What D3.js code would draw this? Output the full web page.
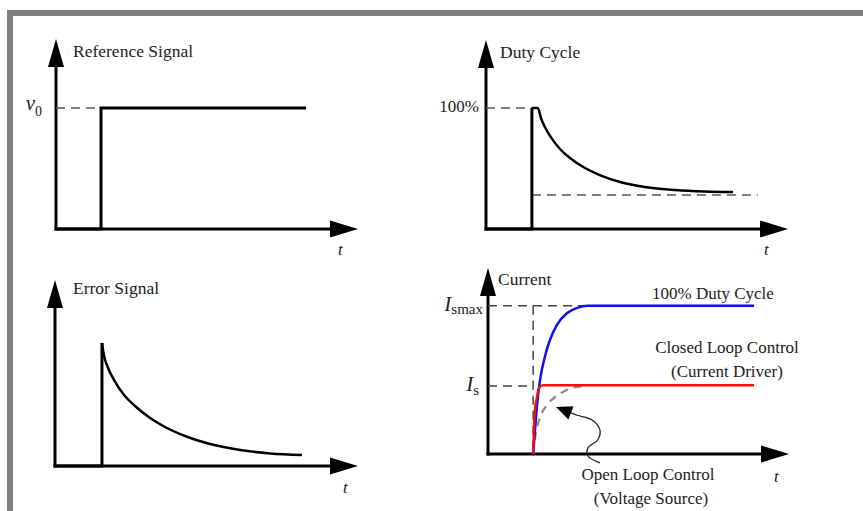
<!DOCTYPE html>
<html>
<head>
<meta charset="utf-8">
<script src="https://cdn.jsdelivr.net/npm/d3@7"></script>
<style>
  html, body { margin: 0; padding: 0; background: #fff; }
  svg { display: block; }
</style>
</head>
<body>
<svg id="chart" width="863" height="511"></svg>
<script>
// ---------------- DATA (time in arbitrary units 0..10, values normalised) ----------------
const titles = ["Reference Signal", "Duty Cycle", "Error Signal", "Current"];
const axisLabel = "t";

// Reference signal: step to v0
const refT = [0, 1.49, 1.49, 8.28];
const refV = [0, 0, 1, 1];
const refLevelLabel = "v";
const refLevelSub = "0";

// Duty cycle: jumps to 100%, then decays to steady state
const dutyStepT = [0, 1.52, 1.52];
const dutyStepV = [0, 0, 1];
const dutyCurveT = [1.52, 1.72, 1.82, 1.95, 2.12, 2.45, 2.78, 3.28, 3.77, 4.44, 5.26, 6.26, 7.25, 8.18];
const dutyCurveV = [1, 1, 0.917, 0.843, 0.769, 0.661, 0.587, 0.504, 0.446, 0.388, 0.347, 0.322, 0.31, 0.306];
const dutySteadyV = 0.28;
const dutySteadyT = [1.52, 9.0];
const dutyLevelLabel = "100%";

// Error signal: spike then decay
const errStepT = [0, 1.55, 1.55];
const errStepV = [0, 0, 1];
const errCurveT = [1.55, 1.62, 1.75, 1.95, 2.28, 2.64, 3.14, 3.63, 4.29, 5.12, 6.11, 7.10, 8.15];
const errCurveV = [1, 0.894, 0.797, 0.699, 0.577, 0.488, 0.39, 0.317, 0.244, 0.179, 0.13, 0.102, 0.089];

// Current (value 1 = Is)
const IsmaxV = 2.18;
const stepT = 1.5;
const blueT = [1.5, 1.56, 1.63, 1.73, 1.89, 2.06, 2.29, 2.62, 2.96, 3.32, 8.84];
const blueV = [0, 0.35, 0.72, 1.09, 1.43, 1.68, 1.90, 2.07, 2.15, 2.18, 2.18];
const redT = [1.5, 1.53, 1.56, 1.63, 1.69, 1.83, 8.84];
const redV = [0, 0.40, 0.65, 0.84, 0.97, 1.01, 1.01];
const openT = [1.5, 1.59, 1.73, 1.96, 2.23, 2.52, 2.85, 3.3];
const openV = [0, 0.31, 0.54, 0.72, 0.84, 0.92, 0.98, 1.0];
const pointerT = [3.72, 3.32, 3.32, 3.65, 3.72, 3.46, 2.96, 2.26];
const pointerV = [-0.13, -0.03, 0.09, 0.21, 0.35, 0.50, 0.57, 0.69];
const curveLabels = ["100% Duty Cycle", "Closed Loop Control", "(Current Driver)", "Open Loop Control", "(Voltage Source)"];
const seriesColors = { full: "#1010e8", closed: "#f01010", open: "#8a8a8a" };

// ---------------- LAYOUT ----------------
const FONT = "'Liberation Serif', 'DejaVu Serif', 'Times New Roman', Times, serif";
const TITLE_SIZE = 17.5, LABEL_SIZE = 17;
const panels = [
  { x0: 56,  xEnd: 358, y0: 229, y1: 108, yTop: 39 },
  { x0: 486, xEnd: 788, y0: 229, y1: 108, yTop: 40 },
  { x0: 55,  xEnd: 358, y0: 466, y1: 343, yTop: 280 },
  { x0: 488, xEnd: 789, y0: 454, y1: 386, yTop: 268 }
];

const svg = d3.select("#chart").attr("font-family", FONT);

// frame
svg.append("rect").attr("x", 7).attr("y", 10).attr("width", 856).attr("height", 6).attr("fill", "#808080");
svg.append("rect").attr("x", 7).attr("y", 10).attr("width", 6).attr("height", 501).attr("fill", "#808080");

function txt(g, x, y, size, s) {
  return g.append("text").attr("x", x).attr("y", y).attr("font-size", size)
    .attr("font-family", FONT).attr("fill", "#222").text(s);
}

panels.forEach(p => {
  p.x = d3.scaleLinear().domain([0, 10]).range([p.x0, p.xEnd]);
  p.y = d3.scaleLinear().domain([0, 1]).range([p.y0, p.y1]);
  p.g = svg.append("g");
  const g = p.g;
  g.append("line").attr("x1", p.x0).attr("x2", p.x0).attr("y1", p.y0 + 1.5).attr("y2", p.yTop + 12)
    .attr("stroke", "#000").attr("stroke-width", 3);
  g.append("line").attr("x1", p.x0 - 1.5).attr("x2", p.xEnd - 12).attr("y1", p.y0).attr("y2", p.y0)
    .attr("stroke", "#000").attr("stroke-width", 3);
  g.append("path").attr("d", `M${p.x0},${p.yTop} L${p.x0 + 8},${p.yTop + 28} L${p.x0 - 8},${p.yTop + 28}Z`).attr("fill", "#000");
  g.append("path").attr("d", `M${p.xEnd},${p.y0} L${p.xEnd - 28},${p.y0 - 8.5} L${p.xEnd - 28},${p.y0 + 8.5}Z`).attr("fill", "#000");
});

function lineGen(p, curve) {
  return d3.line().x(d => p.x(d[0])).y(d => p.y(d[1])).curve(curve || d3.curveLinear);
}
const zip = (a, b) => a.map((v, i) => [v, b[i]]);

function dashed(p, pts, color, w) {
  p.g.append("path").attr("d", lineGen(p)(pts)).attr("fill", "none")
    .attr("stroke", color || "#555").attr("stroke-width", w || 1.5).attr("stroke-dasharray", "9,6");
}

// ---- Panel 1: Reference Signal
{
  const p = panels[0], g = p.g;
  dashed(p, [[0, 1], [refT[1], 1]]);
  g.append("path").attr("d", lineGen(p)(zip(refT, refV))).attr("fill", "none").attr("stroke", "#000").attr("stroke-width", 3);
  txt(g, p.x0 + 17, 57, TITLE_SIZE, titles[0]);
  txt(g, p.xEnd - 20, 255, LABEL_SIZE, axisLabel).attr("font-style", "italic");
  const t = txt(g, p.x0 - 14, p.y(1) + 2, 20, null).attr("text-anchor", "end");
  t.append("tspan").attr("font-size", 21).attr("font-style", "italic").text(refLevelLabel);
  t.append("tspan").attr("font-size", 14).attr("dy", 6).text(refLevelSub);
}

// ---- Panel 2: Duty Cycle
{
  const p = panels[1], g = p.g;
  dashed(p, [[0, 1], [dutyStepT[1], 1]]);
  dashed(p, dutySteadyT.map(t => [t, dutySteadyV]));
  g.append("path").attr("d", lineGen(p)(zip(dutyStepT, dutyStepV))).attr("fill", "none").attr("stroke", "#000").attr("stroke-width", 3);
  g.append("path").attr("d", lineGen(p, d3.curveMonotoneX)(zip(dutyCurveT, dutyCurveV))).attr("fill", "none").attr("stroke", "#000").attr("stroke-width", 2.5);
  txt(g, p.x0 + 14, 58, TITLE_SIZE, titles[1]);
  txt(g, p.xEnd - 24, 255, LABEL_SIZE, axisLabel).attr("font-style", "italic");
  txt(g, p.x0 - 7, p.y(1) + 4, LABEL_SIZE, dutyLevelLabel).attr("text-anchor", "end");
}

// ---- Panel 3: Error Signal
{
  const p = panels[2], g = p.g;
  g.append("path").attr("d", lineGen(p)(zip(errStepT, errStepV))).attr("fill", "none").attr("stroke", "#000").attr("stroke-width", 3);
  g.append("path").attr("d", lineGen(p, d3.curveMonotoneX)(zip(errCurveT, errCurveV))).attr("fill", "none").attr("stroke", "#000").attr("stroke-width", 2.5);
  txt(g, p.x0 + 18, 294, TITLE_SIZE, titles[2]);
  txt(g, p.xEnd - 15, 493, LABEL_SIZE, axisLabel).attr("font-style", "italic");
}

// ---- Panel 4: Current
{
  const p = panels[3], g = p.g;
  dashed(p, [[0, IsmaxV], [blueT[blueT.length - 2] + 0.1, IsmaxV]], "#444");
  dashed(p, [[stepT, IsmaxV], [stepT, 0]], "#444");
  dashed(p, [[0, 1], [stepT, 1]], "#444");
  g.append("path").attr("d", lineGen(p, d3.curveMonotoneX)(zip(openT, openV))).attr("fill", "none")
    .attr("stroke", seriesColors.open).attr("stroke-width", 2.2).attr("stroke-dasharray", "8,6");
  g.append("path").attr("d", lineGen(p, d3.curveMonotoneX)(zip(blueT, blueV))).attr("fill", "none")
    .attr("stroke", seriesColors.full).attr("stroke-width", 2.5);
  g.append("path").attr("d", lineGen(p, d3.curveMonotoneX)(zip(redT, redV))).attr("fill", "none")
    .attr("stroke", seriesColors.closed).attr("stroke-width", 2.5);

  // pointer
  const pts = zip(pointerT, pointerV);
  const n = pts.length;
  const tip = [p.x(pts[n - 1][0]), p.y(pts[n - 1][1])];
  const prev = [p.x(pts[n - 2][0]), p.y(pts[n - 2][1])];
  const ang = Math.atan2(tip[1] - prev[1], tip[0] - prev[0]);
  const L = 16, W = 7;
  const bx = tip[0] - L * Math.cos(ang), by = tip[1] - L * Math.sin(ang);
  const linePts = pts.slice(0, n - 1).map(d => [p.x(d[0]), p.y(d[1])]).concat([[bx + 2 * Math.cos(ang), by + 2 * Math.sin(ang)]]);
  g.append("path").attr("d", d3.line().curve(d3.curveCatmullRom.alpha(0.5))(linePts)).attr("fill", "none")
    .attr("stroke", "#222").attr("stroke-width", 1.3);
  g.append("path").attr("d",
    `M${tip[0]},${tip[1]} L${bx - W * Math.sin(ang)},${by + W * Math.cos(ang)} L${bx + W * Math.sin(ang)},${by - W * Math.cos(ang)}Z`)
    .attr("fill", "#000");

  txt(g, p.x0 + 10, 285, TITLE_SIZE, titles[3]);
  txt(g, p.xEnd - 15, 482, LABEL_SIZE, axisLabel).attr("font-style", "italic");

  const t1 = txt(g, p.x0 - 5, p.y(IsmaxV) + 5, 21, null).attr("text-anchor", "end");
  t1.append("tspan").attr("font-size", 21).attr("font-style", "italic").text("I");
  t1.append("tspan").attr("font-size", 15).attr("dy", 3).text("smax");
  const t2 = txt(g, p.x0 - 9, p.y(1) + 5, 21, null).attr("text-anchor", "end");
  t2.append("tspan").attr("font-size", 21).attr("font-style", "italic").text("I");
  t2.append("tspan").attr("font-size", 15).attr("dy", 4).text("s");

  txt(g, 652, 299, LABEL_SIZE, curveLabels[0]);
  txt(g, 727, 353, LABEL_SIZE, curveLabels[1]).attr("text-anchor", "middle");
  txt(g, 727, 377, LABEL_SIZE, curveLabels[2]).attr("text-anchor", "middle");
  txt(g, 648, 480, LABEL_SIZE, curveLabels[3]).attr("text-anchor", "middle");
  txt(g, 651, 504, LABEL_SIZE, curveLabels[4]).attr("text-anchor", "middle");
}
</script>
</body>
</html>
